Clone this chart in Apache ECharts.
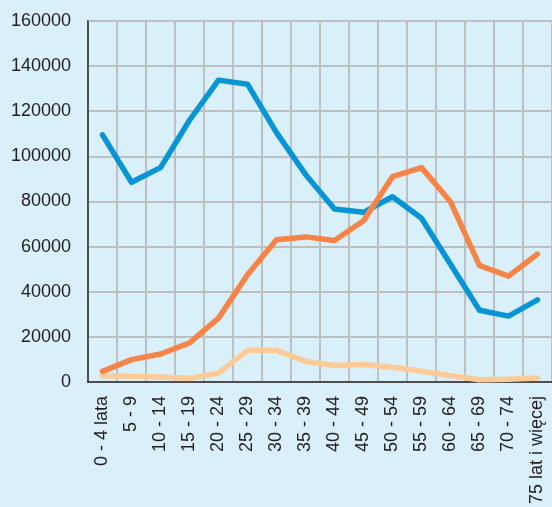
<!DOCTYPE html>
<html>
<head>
<meta charset="utf-8">
<script src="https://cdn.jsdelivr.net/npm/echarts@6/dist/echarts.min.js"></script>
<style>
  html, body { margin: 0; padding: 0; background: #d9eff9; }
  #chart { width: 552px; height: 507px; }
</style>
</head>
<body>
<div id="chart"></div>
<script>
const ageGroups = ['0 - 4 lata', '5 - 9', '10 - 14', '15 - 19', '20 - 24', '25 - 29', '30 - 34', '35 - 39',
  '40 - 44', '45 - 49', '50 - 54', '55 - 59', '60 - 64', '65 - 69', '70 - 74', '75 lat i więcej'];
const blueValues = [109500, 88500, 95000, 116000, 133800, 132000, 110500, 92000,
  76700, 75200, 82100, 72600, 52200, 31800, 29200, 36400];
const orangeValues = [4700, 9900, 12400, 17300, 28300, 47500, 63000, 64300,
  62700, 71500, 91000, 95000, 79900, 51600, 46900, 56700];
const peachValues = [2800, 2500, 2200, 1600, 4000, 14000, 14000, 9100,
  7300, 7700, 6500, 4700, 2800, 1000, 1200, 1800];
const yTicks = { min: 0, max: 160000, step: 20000 };

const chart = echarts.init(document.getElementById('chart'));

function lineSeries(name, data, color, z) {
  return {
    name: name,
    type: 'line',
    data: data,
    symbol: 'none',
    z: z,
    lineStyle: { color: color, width: 5.5, cap: 'round', join: 'round' }
  };
}

chart.setOption({
  backgroundColor: '#d9eff9',
  animation: false,
  grid: {
    left: 88,
    top: 21,
    right: -1,
    bottom: 125,
    show: true,
    borderColor: '#3a3a3a',
    borderWidth: 1.5,
    backgroundColor: 'transparent'
  },
  xAxis: {
    type: 'category',
    data: ageGroups,
    boundaryGap: true,
    axisLine: { show: true, lineStyle: { color: '#2a2a2a', width: 1.5 } },
    axisTick: { show: false },
    splitLine: { show: true, interval: 0, lineStyle: { color: '#bdbfc1', width: 2 } },
    axisLabel: {
      interval: 0,
      rotate: 90,
      margin: 14,
      color: '#231f20',
      fontFamily: 'Liberation Sans',
      fontSize: 18
    }
  },
  yAxis: {
    type: 'value',
    min: yTicks.min,
    max: yTicks.max,
    interval: yTicks.step,
    axisLine: { show: true, lineStyle: { color: '#2a2a2a', width: 1.5 } },
    axisTick: { show: false },
    splitLine: { show: true, lineStyle: { color: '#bdbfc1', width: 2 } },
    axisLabel: {
      margin: 17,
      color: '#231f20',
      fontFamily: 'Liberation Sans',
      fontSize: 18,
      formatter: function (v) { return String(v); }
    }
  },
  series: [
    lineSeries('peach', peachValues, '#fdcb98', 2),
    lineSeries('blue', blueValues, '#0795d6', 3),
    lineSeries('orange', orangeValues, '#f68447', 4)
  ]
});
</script>
</body>
</html>
